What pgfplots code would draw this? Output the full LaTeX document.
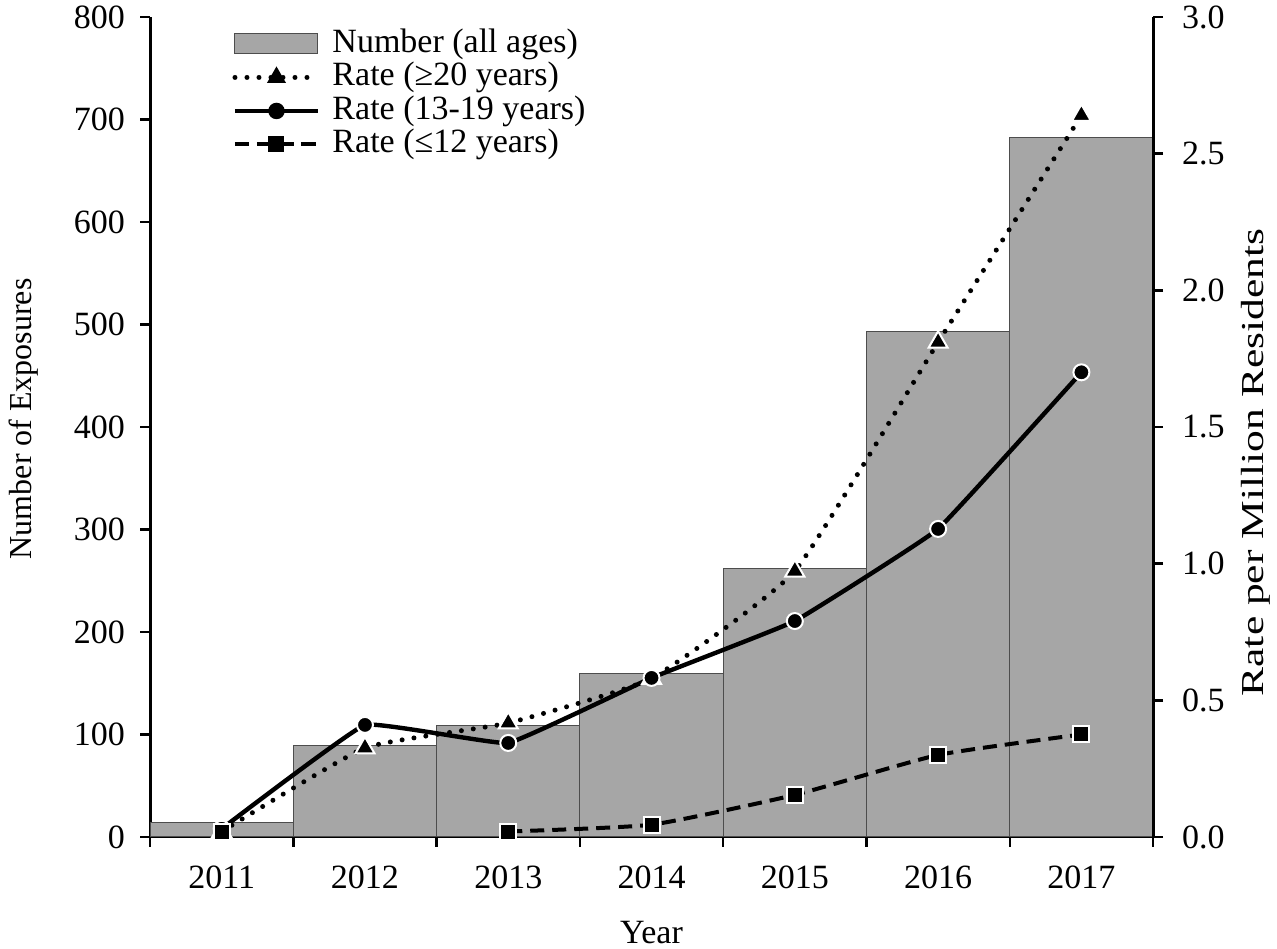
\documentclass[border=0pt]{standalone}
\usepackage{fontspec}
\setmainfont{Liberation Serif}
\usepackage{graphicx}
\usepackage{pgfplots}
\pgfplotsset{compat=1.18}
\definecolor{bargray}{HTML}{A6A6A6}
\definecolor{baredge}{HTML}{4D4D4D}
\newcommand{\bigf}{\fontsize{17}{20}\selectfont}
\newcommand{\labf}{\fontsize{16}{19}\selectfont}
\pgfplotsset{
  longline/.style={legend image code/.code={\draw[mark repeat=2,mark phase=2,##1, mark size=3pt, mark options={solid,draw=black,fill=black}] plot coordinates {(0pt,0pt)(20.75pt,0pt)(41.5pt,0pt)};}},
  common/.style={
    width=501.5pt, height=410pt, scale only axis,
    xmin=0, xmax=7,
    tick align=outside,
    /pgf/number format/assume math mode=true,
    tick label style={font=\bigf},
    label style={font=\bigf},
    axis line style={line width=1.5pt},
    major tick style={line width=1.2pt, black},
    minor tick style={line width=1.2pt, black},
    major tick length=5pt, minor tick length=5pt,
  }
}
\begin{document}
\begin{tikzpicture}
\begin{axis}[common,
  axis y line*=left, axis x line*=bottom,
  ymin=0, ymax=800, ytick={0,100,...,800},
  yticklabel style={xshift=-4pt},
  xtick={0,1,...,7}, xticklabels={},
  extra x ticks={0.5,1.5,2.5,3.5,4.5,5.5,6.5},
  extra x tick labels={2011,2012,2013,2014,2015,2016,2017},
  extra x tick style={major tick length=0pt, xticklabel style={yshift=-11pt}},
  ylabel={Number of Exposures},
  xlabel={Year},
  every axis y label/.style={at={(axis description cs:-0.1256,0.51)}, rotate=90, anchor=center, font=\labf},
  every axis x label/.style={at={(axis description cs:0.5,-0.116)}, anchor=center, font=\bigf},
]
\addplot[ybar, bar width=1, fill=bargray, draw=baredge, line width=0.5pt]
  coordinates {(0.5,14) (1.5,89) (2.5,109) (3.5,159) (4.5,262) (5.5,493) (6.5,682)};
\end{axis}
\begin{axis}[common,
  axis y line*=right, axis x line=none,
  ymin=0, ymax=3, ytick={0,0.5,...,3},
  yticklabel style={xshift=6pt, /pgf/number format/.cd, fixed, fixed zerofill, precision=1},
  ylabel={\scalebox{1.36}[1]{Rate per Million Residents}},
  every axis y label/.style={at={(axis description cs:1.1027,0.4567)}, rotate=90, anchor=center, font=\labf},
  unbounded coords=jump,
  legend style={at={(0.0818,0.988)}, anchor=north west, draw=none, fill=none,
    inner sep=0pt, row sep=0pt, column sep=6pt, font=\bigf,
    nodes={inner sep=0pt, text height=12.5pt, text depth=4.25pt}},
  legend cell align=left,
]
\coordinate (LL) at (rel axis cs:-0.1496,-0.1354);
\coordinate (UR) at (rel axis cs:1.1236,1.0207);
\addlegendimage{legend image code/.code={\draw[fill=bargray, draw=baredge, line width=0.5pt] (0pt,-5pt) rectangle (41.5pt,5pt);}}
\addlegendentry{Number (all ages)}
\addplot[black, line width=2.5pt, dash pattern=on 0pt off 6pt, line cap=round, smooth, tension=0.25,
  mark=triangle*, mark size=5.5pt, mark options={solid, fill=black, draw=white, line width=1pt},
  longline]
  coordinates {(0.5,0.02) (1.5,0.326) (2.5,0.417) (3.5,0.58) (4.5,0.973) (5.5,1.81) (6.5,2.64)};
\addlegendentry{Rate (≥20 years)}
\addplot[black, line width=2.2pt, smooth, tension=0.15,
  mark=*, mark size=4pt, mark options={solid, fill=black, draw=white, line width=1pt},
  longline]
  coordinates {(0.5,0.03) (1.5,0.41) (2.5,0.344) (3.5,0.582) (4.5,0.79) (5.5,1.127) (6.5,1.70)};
\addlegendentry{Rate (13-19 years)}
\addplot[black, line width=2pt, dash pattern=on 7pt off 4pt, smooth, tension=0.3,
  mark=square*, mark size=4pt, mark options={solid, fill=black, draw=white, line width=1pt},
  longline]
  coordinates {(0.5,0.02) (1.5,nan) (2.5,0.02) (3.5,0.045) (4.5,0.154) (5.5,0.30) (6.5,0.375)};
\addlegendentry{Rate (≤12 years)}
\end{axis}
\pgfresetboundingbox
\useasboundingbox (LL) rectangle (UR);
\end{tikzpicture}
\end{document}
